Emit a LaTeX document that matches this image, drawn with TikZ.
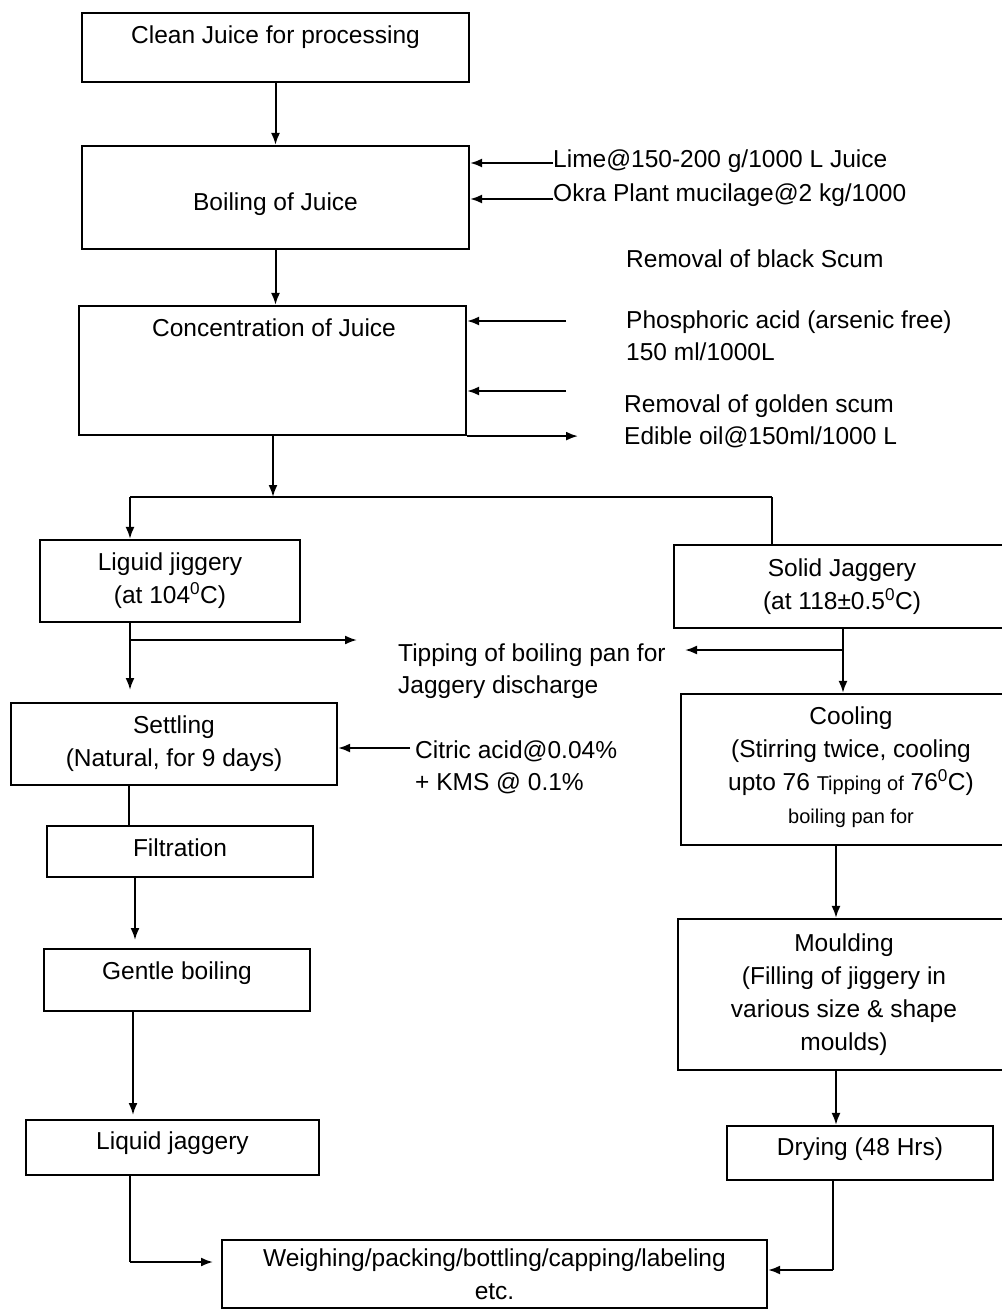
\documentclass[tikz,border=0pt]{standalone}
\usepackage{fontspec}
\setmainfont{Liberation Sans}
\usetikzlibrary{arrows.meta,calc}
\begin{document}
\begin{tikzpicture}[x=1pt,y=-1pt,
  box/.style={draw,line width=2.2pt,inner sep=0pt,align=center,font=\fontsize{24.5}{33}\selectfont},
  txt/.style={inner sep=0pt,align=left,font=\fontsize{24.5}{32}\selectfont},
  ctxt/.style={inner sep=0pt,align=center,font=\fontsize{24.5}{33}\selectfont},
  arr/.style={line width=2pt,-{Latex[length=12pt,width=9pt]}},
  ln/.style={line width=2pt}]
\useasboundingbox (0,0) rectangle (1001,1311);
% boxes
\node[box,minimum width=387,minimum height=69] (b1) at (275.5,47.5) {};
\node[ctxt] (t1) at (275.5,37) {Clean Juice for processing};
\node[box,minimum width=387,minimum height=103] (b2) at (275.5,197.5) {};
\node[ctxt] (t2) at (275.5,204) {Boiling of Juice};
\node[box,minimum width=387,minimum height=129] (b3) at (272.5,370.5) {};
\node[ctxt] (t3) at (274,328) {Concentration of Juice};
\node[box,minimum width=260,minimum height=82] (lj) at (170,581) {Liguid jiggery\\(at 104\textsuperscript{0}C)};
\node[box,minimum width=336,minimum height=83] (sj) at (842,586.5) {Solid Jaggery\\(at 118±0.5\textsuperscript{0}C)};
\node[box,minimum width=326,minimum height=82] (st) at (174,744) {Settling\\(Natural, for 9 days)};
\node[box,minimum width=266,minimum height=51] (fi) at (180,851.5) {};
\node[ctxt] (fit) at (180,848) {Filtration};
\node[box,minimum width=266,minimum height=62] (gb) at (177,980) {};
\node[ctxt] (gbt) at (177,973) {Gentle boiling};
\node[box,minimum width=293,minimum height=55] (lq) at (172.5,1147.5) {};
\node[ctxt] (lqt) at (172.5,1143) {Liquid jaggery};
\node[box,minimum width=329,minimum height=151] (co) at (845.5,769.5) {};
\node[ctxt] (cot) at (851,767) {Cooling\\(Stirring twice, cooling\\upto 76 {\fontsize{20}{24}\selectfont Tipping of} 76\textsuperscript{0}C)\\{\fontsize{20}{24}\selectfont boiling pan for}};
\node[box,minimum width=332,minimum height=151] (mo) at (844,994.5) {Moulding\\(Filling of jiggery in\\various size \& shape\\moulds)};
\node[box,minimum width=266,minimum height=54] (dr) at (860,1153) {};
\node[ctxt] (drt) at (860,1149) {Drying (48 Hrs)};
\node[box,minimum width=545,minimum height=68] (wp) at (494.5,1274) {Weighing/packing/bottling/capping/labeling\\etc.};
% side texts
\node[txt,anchor=west] (lime) at (553,161) {Lime@150-200 g/1000 L Juice};
\node[txt,anchor=west] (okra) at (553,195) {Okra Plant mucilage@2 kg/1000};
\node[txt,anchor=west] (blk) at (626,259) {Removal of black Scum};
\node[txt,anchor=west] (phos) at (626,336) {Phosphoric acid (arsenic free)\\150 ml/1000L};
\node[txt,anchor=west] (gold) at (624,421) {Removal of golden scum\\Edible oil@150ml/1000 L};
\node[txt,anchor=west] (tip) at (398,671) {Tipping of boiling pan for\\Jaggery discharge};
\node[txt,anchor=west] (cit) at (415,767) {Citric acid@0.04\%\\+ KMS @ 0.1\%};
% coordinates
\coordinate (p1) at (566,321);
\coordinate (p2) at (566,391);
\coordinate (eo) at (578,437);
\coordinate (j) at (273,497);
\coordinate (jl) at (130,497);
\coordinate (jr) at (772,497);
\coordinate (la) at (130,690);
\coordinate (tb) at (130,640);
\coordinate (tbe) at (357,640);
\coordinate (sx) at (843,628);
\coordinate (sb) at (843,650);
\coordinate (sbe) at (685,650);
\coordinate (ca) at (410,748);
\coordinate (fx) at (129,0);
\coordinate (gx) at (135,940);
\coordinate (lx) at (133,1115);
\coordinate (wl) at (130,1262);
\coordinate (wle) at (213,1262);
\coordinate (mx) at (836,0);
\coordinate (wr) at (833,1270);
% connectors
\draw[arr] (b1) -- (b2);
\draw[arr] (b2.south) -- (b2.south |- b3.north);
\draw[arr] (lime.west |- 0,163) -- (b2.east |- 0,163);
\draw[arr] (okra.west |- 0,199) -- (b2.east |- 0,199);
\draw[arr] (p1) -- (p1 -| b3.east);
\draw[arr] (p2) -- (p2 -| b3.east);
\draw[arr] (b3.south east) -- (b3.south east -| eo);
\draw[arr] (b3.south -| j) -- (j);
\draw[ln] (jl) -- (jr);
\draw[arr] (jl) -- (jl |- lj.north);
\draw[ln] (jr) -- (jr |- sj.north);
\draw[arr] (lj.south -| la) -- (la);
\draw[arr] (tb) -- (tbe);
\draw[arr] (sj.south -| sx) -- (sx |- co.north);
\draw[arr] (sb) -- (sbe);
\draw[arr] (ca) -- (ca -| st.east);
\draw[ln] (st.south -| fx) -- (fi.north -| fx);
\draw[arr] (fi.south -| gx) -- (gx);
\draw[arr] (gb.south -| lx) -- (lx);
\draw[ln] (lq.south -| wl) -- (wl);
\draw[arr] (wl) -- (wle);
\draw[arr] (co.south -| mx) -- (mo.north -| mx);
\draw[arr] (mo.south -| mx) -- (dr.north -| mx);
\draw[ln] (dr.south -| wr) -- (wr);
\draw[arr] (wr) -- (wr -| wp.east);
\end{tikzpicture}
\end{document}
